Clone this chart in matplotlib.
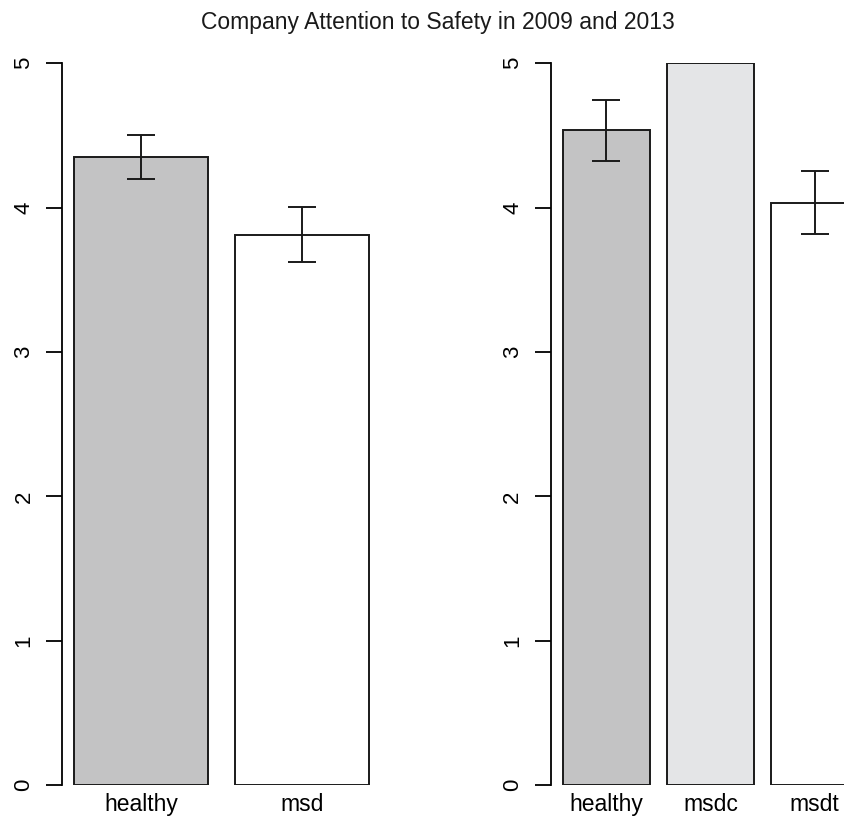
import matplotlib.pyplot as plt
import numpy as np

plt.rcParams['font.family'] = ['Liberation Sans', 'DejaVu Sans']

# 2009 survey
groups_2009 = ['healthy', 'msd']
means_2009 = [4.35, 3.81]
lower_2009 = [4.20, 3.62]
upper_2009 = [4.50, 4.005]
colors_2009 = ['#c3c3c4', '#ffffff']

# 2013 survey
groups_2013 = ['healthy', 'msdc', 'msdt']
means_2013 = [4.54, 5.0, 4.035]
lower_2013 = [4.325, 5.0, 3.82]
upper_2013 = [4.745, 5.0, 4.255]
colors_2013 = ['#c3c3c4', '#e4e5e7', '#ffffff']

FS = 16.5


def r_barplot(ax, names, means, lo, hi, colors):
    n = len(names)
    # R barplot geometry: width 1, space 0.2
    left = 0.2 + 1.2 * np.arange(n)
    mid = left + 0.5
    ax.bar(left, means, width=1.0, align='edge', color=colors,
           edgecolor='#1a1a1a', linewidth=1.4, zorder=2)
    has_err = [i for i in range(n) if hi[i] > lo[i]]
    m = np.array(means)
    yerr = np.array([[m[i] - lo[i] for i in has_err], [hi[i] - m[i] for i in has_err]])
    ax.errorbar(mid[has_err], m[has_err], yerr=yerr, fmt='none', ecolor='#1a1a1a',
                elinewidth=1.4, capsize=10.4, capthick=1.4, zorder=3)
    span = left[-1] + 1.0 - left[0]
    ax.set_xlim(left[0] - 0.04 * span, left[-1] + 1.0 + 0.04 * span)
    ax.set_ylim(0, 5)
    for s in ['top', 'right', 'bottom']:
        ax.spines[s].set_visible(False)
    ax.spines['left'].set_linewidth(1.3)
    ax.spines['left'].set_bounds(0, 5)
    ax.spines['left'].set_clip_on(False)
    ax.set_yticks(range(6))
    ax.tick_params(axis='y', length=11.5, width=1.3, pad=8.5, labelsize=FS - 0.5,
                   labelrotation=90)
    for t in ax.get_yticklabels():
        t.set_va('center')
    ax.set_xticks(mid)
    ax.set_xticklabels(names)
    ax.tick_params(axis='x', length=0, pad=6, labelsize=FS)
    ax.patch.set_visible(False)


fig = plt.figure(figsize=(8.45, 8.16), dpi=100)
ax1 = fig.add_axes([62.2 / 845, 31 / 816, (380.6 - 62.2) / 845, (785 - 63.3) / 816])
ax2 = fig.add_axes([550.9 / 845, 31 / 816, (870 - 550.9) / 845, (785 - 63.3) / 816])

r_barplot(ax1, groups_2009, means_2009, lower_2009, upper_2009, colors_2009)
r_barplot(ax2, groups_2013, means_2013, lower_2013, upper_2013, colors_2013)

fig.text(437.5 / 845, 1 - 22 / 816, 'Company Attention to Safety in 2009 and 2013',
         ha='center', va='center', fontsize=FS, color='#1a1a1a')

fig.savefig('out.png', dpi=100)
